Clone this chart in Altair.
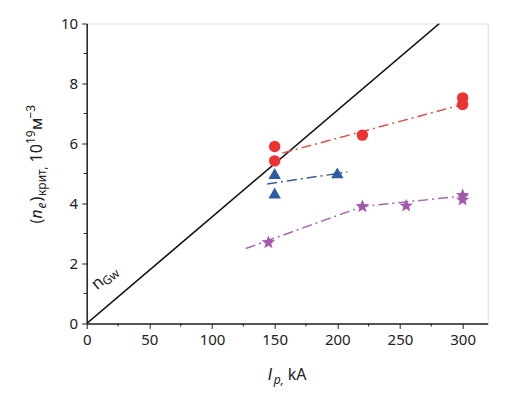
import altair as alt
import pandas as pd

# ---- data ----
red_x = [150, 150, 220, 300, 300]
red_y = [5.9, 5.42, 6.28, 7.52, 7.3]
red_fit_x = [156, 300]
red_fit_y = [5.68, 7.3]

blue_x = [150, 150, 200]
blue_y = [5.0, 4.35, 5.02]
blue_fit_x = [144, 208]
blue_fit_y = [4.65, 5.05]

purple_x = [145, 220, 255, 300, 300]
purple_y = [2.7, 3.9, 3.92, 4.27, 4.12]
purple_fit_x = [127, 220, 307]
purple_fit_y = [2.5, 3.9, 4.28]

gw_x = [0, 281.5]
gw_y = [0, 10]

x_major = [0, 50, 100, 150, 200, 250, 300]
x_minor = [25, 75, 125, 175, 225, 275]
y_major = [0, 2, 4, 6, 8, 10]
y_minor = [1, 3, 5, 7, 9]

FONT = "Noto Sans"
W, H = 401, 300
STAR = ("M0,-1L0.247,-0.34L0.951,-0.309L0.399,0.13L0.588,0.809L0,0.42"
        "L-0.588,0.809L-0.399,0.13L-0.951,-0.309L-0.247,-0.34Z")

xs = alt.Scale(domain=[0, 320], nice=False)
ys = alt.Scale(domain=[0, 10], nice=False)

x_axis = alt.Axis(values=x_major, title=None, grid=False, labelFontSize=15, labelFont=FONT,
                  labelColor="#222", tickSize=5, tickColor="#222", domainColor="#222",
                  domainWidth=1.5, labelPadding=4, labelFlush=False)
y_axis = alt.Axis(values=y_major, title=None, grid=False, labelFontSize=15, labelFont=FONT,
                  labelColor="#222", tickSize=5, tickColor="#222", domainColor="#222",
                  domainWidth=1.5, labelPadding=4, labelFlush=False)


def line(xv, yv, color, dash=None, width=1.5):
    df = pd.DataFrame({"x": xv, "y": yv})
    kw = dict(color=color, strokeWidth=width, clip=True)
    if dash:
        kw["strokeDash"] = dash
    return alt.Chart(df).mark_line(**kw).encode(
        x=alt.X("x:Q", scale=xs, axis=x_axis), y=alt.Y("y:Q", scale=ys, axis=y_axis))


def points(xv, yv, color, shape, size):
    df = pd.DataFrame({"x": xv, "y": yv})
    return alt.Chart(df).mark_point(shape=shape, filled=True, color=color, size=size,
                                    opacity=1).encode(
        x=alt.X("x:Q", scale=xs, axis=x_axis), y=alt.Y("y:Q", scale=ys, axis=y_axis))


def txt(s, px, py, size=16, style="normal", angle=0, dx=0, dy=0, font=FONT):
    df = pd.DataFrame({"t": [s]})
    return alt.Chart(df).mark_text(font=font, fontSize=size, fontStyle=style, angle=angle,
                                   align="left", baseline="alphabetic", dx=dx, dy=dy,
                                   color="#222").encode(
        x=alt.value(px), y=alt.value(py), text="t:N")


minor_x = alt.Chart(pd.DataFrame({"v": x_minor})).mark_rule(color="#222", strokeWidth=1).encode(
    x=alt.X("v:Q", scale=xs, axis=x_axis), y=alt.value(H), y2=alt.value(H + 3))
minor_y = alt.Chart(pd.DataFrame({"v": y_minor})).mark_rule(color="#222", strokeWidth=1).encode(
    y=alt.Y("v:Q", scale=ys, axis=y_axis), x=alt.value(0), x2=alt.value(-3))

dd = [10, 4, 2, 4]
layers = [
    minor_x, minor_y,
    line(gw_x, gw_y, "#111", width=1.6),
    line(red_fit_x, red_fit_y, "#e0504c", dd),
    line(blue_fit_x, blue_fit_y, "#3f5b96", dd),
    line(purple_fit_x, purple_fit_y, "#a866b0", dd),
    points(red_x, red_y, "#ec3232", "circle", 130),
    points(blue_x, blue_y, "#2e5aa6", "triangle-up", 155),
    points(purple_x, purple_y, "#a356ab", STAR, 200),
]

# y-axis title pieces: (n_e)_крит, 10^19 м^-3
ya_x, ya_y = -44.7, 200
layers += [
    txt("(", ya_x, ya_y, angle=270, dx=0),
    txt("n", ya_x, ya_y, style="italic", angle=270, dx=4.8),
    txt("e", ya_x, ya_y, size=12, style="italic", angle=270, dx=15, dy=4),
    txt(")", ya_x, ya_y, angle=270, dx=22),
    txt("крит,", ya_x, ya_y, size=12, angle=270, dx=27.5, dy=4),
    txt("10", ya_x, ya_y, angle=270, dx=61),
    txt("19", ya_x, ya_y, size=12, angle=270, dx=79.5, dy=-7),
    txt("м", ya_x, ya_y, angle=270, dx=93.5),
    txt("−3", ya_x, ya_y, size=12, angle=270, dx=105, dy=-7),
]

# x-axis title: I_p, kA
xa_x, xa_y = 181, 357
layers += [
    txt("I", xa_x, xa_y, style="italic", font="Liberation Sans"),
    txt("p,", xa_x, xa_y, size=12, style="italic", dx=6, dy=4),
    txt("kA", xa_x, xa_y, dx=20),
]

# n_Gw label on the Greenwald line
g_x, g_y = 10.3, 267
layers += [
    txt("n", g_x, g_y, size=17, angle=320),
    txt("Gw", g_x, g_y, size=12, angle=320, dx=10, dy=3),
]

chart = alt.layer(*layers).properties(
    width=W, height=H,
    autosize=alt.AutoSizeParams(type="none"),
    padding={"left": 78.7, "top": 15.5, "right": 20, "bottom": 70},
).configure_view(stroke="#222", strokeWidth=1.5).configure(background="white")

chart.save("out.html", embed_options={"renderer": "svg", "actions": False})
